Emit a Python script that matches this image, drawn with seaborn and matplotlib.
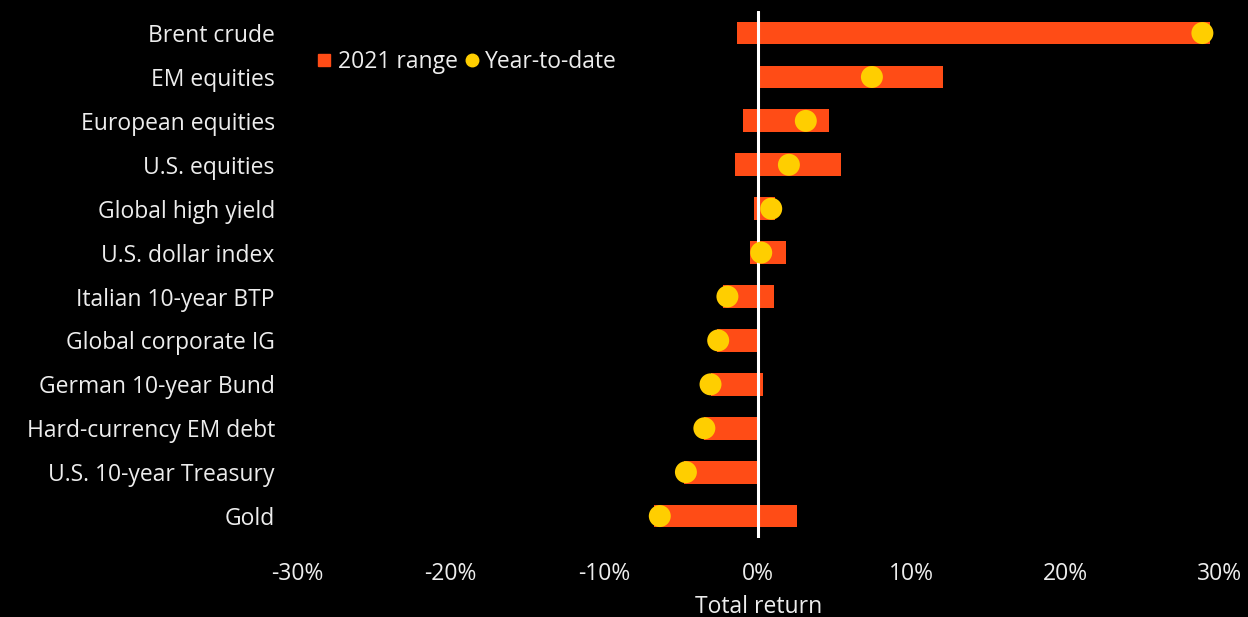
import seaborn as sns
import matplotlib.pyplot as plt
from matplotlib.lines import Line2D
import pandas as pd

# values, in %
assets = ["Brent crude", "EM equities", "European equities", "U.S. equities",
          "Global high yield", "U.S. dollar index", "Italian 10-year BTP",
          "Global corporate IG", "German 10-year Bund", "Hard-currency EM debt",
          "U.S. 10-year Treasury", "Gold"]
range_low = [-1.4, 0.1, -1.0, -1.5, -0.3, -0.5, -2.3, -2.7, -3.1, -3.5, -4.8, -6.8]
range_high = [29.4, 12.0, 4.6, 5.4, 1.1, 1.8, 1.0, 0.0, 0.3, 0.0, 0.0, 2.5]
ytd = [28.9, 7.4, 3.1, 2.0, 0.85, 0.2, -2.0, -2.6, -3.1, -3.5, -4.7, -6.4]
xticks = [-30, -20, -10, 0, 10, 20, 30]

ORANGE = "#FF4C16"
YELLOW = "#FFCE00"
TEXT = "#EDEDED"

df = pd.DataFrame({"asset": assets, "low": range_low, "high": range_high, "ytd": ytd})
df["span"] = df["high"] - df["low"]

sns.set_theme(style="dark", rc={"figure.facecolor": "black", "axes.facecolor": "black"})
plt.rcParams["font.family"] = ["Open Sans", "DejaVu Sans"]

fig = plt.figure(figsize=(12.48, 6.17), dpi=100)
ax = fig.add_axes([0.238, 0.128, 0.739, 0.854])

ax.barh(df["asset"], df["span"], left=df["low"], height=0.52, color=ORANGE,
        edgecolor="none", linewidth=0, zorder=2)
ax.axvline(0, color="white", lw=2.2, zorder=3)
sns.scatterplot(data=df, x="ytd", y="asset", color=YELLOW, s=250, edgecolor="none",
                linewidth=0, zorder=4, ax=ax, legend=False)

ax.set_ylim(11.5, -0.5)
ax.set_xlim(-30, 30)
ax.set_xticks(xticks)
ax.set_xticklabels([f"{t}%" for t in xticks])
ax.set_xlabel("Total return", color=TEXT, fontsize=16.5, labelpad=7)
ax.set_ylabel("")
ax.tick_params(axis="both", length=0, colors=TEXT, labelsize=16.5)
ax.tick_params(axis="x", pad=17)
ax.tick_params(axis="y", pad=16)
ax.grid(False)
for s in ax.spines.values():
    s.set_visible(False)

handles = [
    Line2D([], [], marker="s", linestyle="none", markersize=9, color=ORANGE, label="2021 range"),
    Line2D([], [], marker="o", linestyle="none", markersize=9, color=YELLOW, label="Year-to-date"),
]
leg = ax.legend(handles=handles, loc="upper left", bbox_to_anchor=(0.012, 0.943), ncol=2,
                frameon=False, fontsize=16.5, handlelength=0.6, handletextpad=0.3,
                columnspacing=0.3, borderaxespad=0)
for t in leg.get_texts():
    t.set_color(TEXT)

fig.savefig("out.png", dpi=100, facecolor="black")
